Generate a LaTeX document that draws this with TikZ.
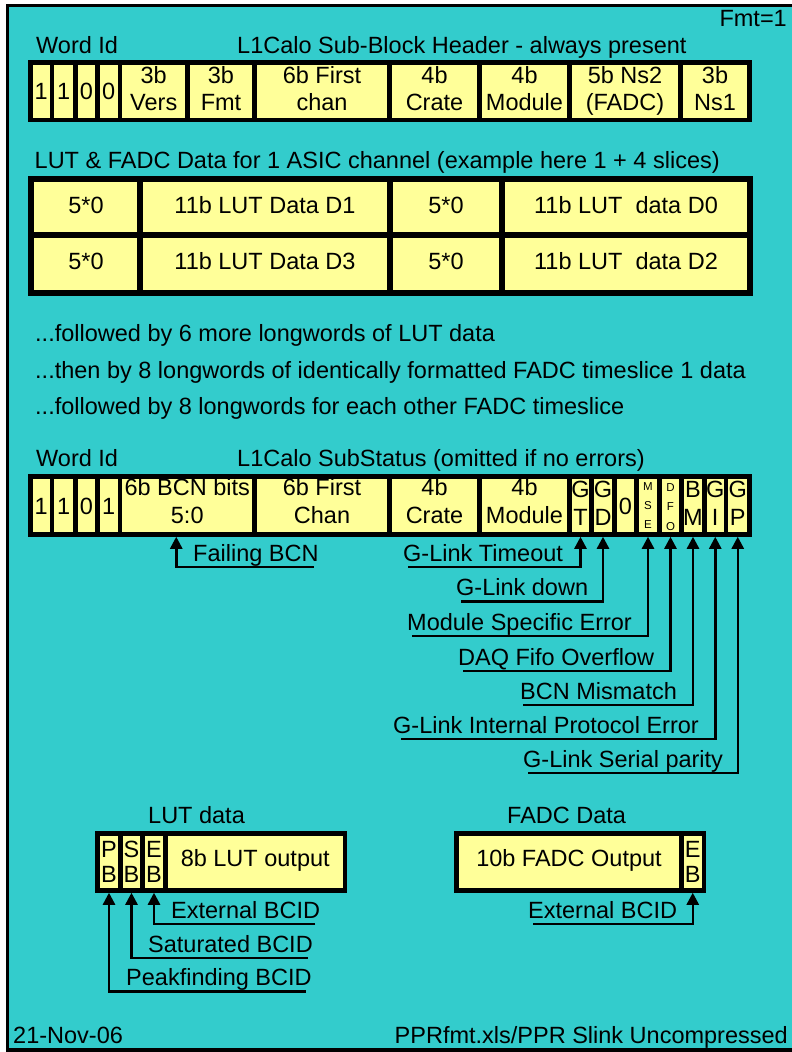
\documentclass[tikz,border=0pt]{standalone}
\usepackage{fontspec}
\setmainfont{Liberation Sans}
\usetikzlibrary{arrows.meta}
\definecolor{bg}{RGB}{51,204,204}
\definecolor{cellyel}{RGB}{255,255,153}
\tikzset{
  cellbox/.style={draw=black, fill=cellyel, line width=4.5pt, inner sep=0pt, rectangle},
  txt/.style={anchor=base, inner sep=0pt, font=\fontsize{23.5}{28}\selectfont},
  ttl/.style={anchor=base west, inner sep=0pt, font=\fontsize{23.5}{28}\selectfont},
  lbl/.style={anchor=base west, inner sep=0pt, text depth=6pt, font=\fontsize{23.5}{28}\selectfont},
  tinytxt/.style={anchor=base, inner sep=0pt, font=\fontsize{11.5}{12}\selectfont},
  arr/.style={line width=2.5pt, -{Triangle[width=12pt,length=12pt]}},
}
\newcommand\cellnode[5]{\node[cellbox, minimum width={(#3)-(#2)}, minimum height={(#5)-(#4)}] (#1) at ({((#2)+(#3))/2},{((#4)+(#5))/2}) {};}
\newcommand\ctext[4]{\node[txt] (#1) at ({#2},{#3}) {#4};}
\begin{document}
\begin{tikzpicture}[x=1pt,y=-1pt]
\useasboundingbox (0,0) rectangle (792,1052);
\clip (0,0) rectangle (792,1052);
\fill[white] (0,0) rectangle (792,1052);
\filldraw[fill=bg, draw=black, line width=3.5pt] (7.5,5.5) rectangle (800,1050);

% ---------- Sub-block header ----------
\node[anchor=base east, inner sep=0pt, font=\fontsize{23.5}{28}\selectfont] (fmt) at (787,27) {Fmt=1};
\node[ttl] (wid1) at (36,53.3) {Word Id};
\node[ttl] (hdr) at (237,53.3) {L1Calo Sub-Block Header - always present};

\cellnode{h1}{30.5}{52}{62.5}{120}
\cellnode{h2}{52}{75.5}{62.5}{120}
\cellnode{h3}{75.5}{97.5}{62.5}{120}
\cellnode{h4}{97.5}{120}{62.5}{120}
\cellnode{h5}{120}{187.5}{62.5}{120}
\cellnode{h6}{187.5}{254.5}{62.5}{120}
\cellnode{h7}{254.5}{389.5}{62.5}{120}
\cellnode{h8}{389.5}{479.5}{62.5}{120}
\cellnode{h9}{479.5}{569.5}{62.5}{120}
\cellnode{h10}{569.5}{680.5}{62.5}{120}
\cellnode{h11}{680.5}{749.5}{62.5}{120}
\ctext{h1t}{41.25}{99.5}{1}
\ctext{h2t}{63.75}{99.5}{1}
\ctext{h3t}{86.5}{99.5}{0}
\ctext{h4t}{108.75}{99.5}{0}
\ctext{h5a}{153.75}{83}{3b}
\ctext{h5b}{153.75}{110}{Vers}
\ctext{h6a}{221}{83}{3b}
\ctext{h6b}{221}{110}{Fmt}
\ctext{h7a}{322}{83}{6b First}
\ctext{h7b}{322}{110}{chan}
\ctext{h8a}{434.5}{83}{4b}
\ctext{h8b}{434.5}{110}{Crate}
\ctext{h9a}{524.5}{83}{4b}
\ctext{h9b}{524.5}{110}{Module}
\ctext{h10a}{625}{83}{5b Ns2}
\ctext{h10b}{625}{110}{(FADC)}
\ctext{h11a}{715}{83}{3b}
\ctext{h11b}{715}{110}{Ns1}

% ---------- LUT & FADC data ----------
\node[ttl] (luttitle) at (34.5,168) {LUT \& FADC Data for 1 ASIC channel (example here 1 + 4 slices)};
\begin{scope}[cellbox/.append style={line width=6pt}]
\cellnode{ta1}{30.5}{140}{179}{235}
\cellnode{ta2}{140}{389.5}{179}{235}
\cellnode{ta3}{389.5}{502}{179}{235}
\cellnode{ta4}{502}{749.5}{179}{235}
\cellnode{tb1}{30.5}{140}{235}{293}
\cellnode{tb2}{140}{389.5}{235}{293}
\cellnode{tb3}{389.5}{502}{235}{293}
\cellnode{tb4}{502}{749.5}{235}{293}
\end{scope}
\ctext{ta1t}{86}{213.5}{5*0}
\ctext{ta2t}{265}{213.5}{11b LUT Data D1}
\ctext{ta3t}{446}{213.5}{5*0}
\ctext{ta4t}{626}{213.5}{11b LUT\ \ data D0}
\ctext{tb1t}{86}{269.5}{5*0}
\ctext{tb2t}{265}{269.5}{11b LUT Data D3}
\ctext{tb3t}{446}{269.5}{5*0}
\ctext{tb4t}{626}{269.5}{11b LUT\ \ data D2}

\node[ttl] (fol1) at (35,341) {...followed by 6 more longwords of LUT data};
\node[ttl] (fol2) at (35,378) {...then by 8 longwords of identically formatted FADC timeslice 1 data};
\node[ttl] (fol3) at (35,414) {...followed by 8 longwords for each other FADC timeslice};

% ---------- SubStatus ----------
\node[ttl] (wid2) at (36,466) {Word Id};
\node[ttl] (sst) at (237,466) {L1Calo SubStatus (omitted if no errors)};

\cellnode{s1}{30.5}{52}{476.5}{534.5}
\cellnode{s2}{52}{75.5}{476.5}{534.5}
\cellnode{s3}{75.5}{97.5}{476.5}{534.5}
\cellnode{s4}{97.5}{120}{476.5}{534.5}
\cellnode{s5}{120}{254.5}{476.5}{534.5}
\cellnode{s6}{254.5}{389.5}{476.5}{534.5}
\cellnode{s7}{389.5}{479.5}{476.5}{534.5}
\cellnode{s8}{479.5}{569.5}{476.5}{534.5}
\cellnode{sgt}{569.5}{591.5}{476.5}{534.5}
\cellnode{sgd}{591.5}{614.5}{476.5}{534.5}
\cellnode{szero}{614.5}{636.5}{476.5}{534.5}
\cellnode{smse}{636.5}{659.5}{476.5}{534.5}
\cellnode{sdfo}{659.5}{681.5}{476.5}{534.5}
\cellnode{sbm}{681.5}{704.5}{476.5}{534.5}
\cellnode{sgi}{704.5}{726}{476.5}{534.5}
\cellnode{sgp}{726}{749.5}{476.5}{534.5}
\ctext{s1t}{41.25}{514}{1}
\ctext{s2t}{63.75}{514}{1}
\ctext{s3t}{86.5}{514}{0}
\ctext{s4t}{108.75}{514}{1}
\ctext{s5a}{187.25}{495}{6b BCN bits}
\ctext{s5b}{187.25}{523}{5:0}
\ctext{s6a}{322}{495}{6b First}
\ctext{s6b}{322}{523}{Chan}
\ctext{s7a}{434.5}{495}{4b}
\ctext{s7b}{434.5}{523}{Crate}
\ctext{s8a}{524.5}{495}{4b}
\ctext{s8b}{524.5}{523}{Module}
\ctext{sgta}{580.5}{497}{G}
\ctext{sgtb}{580.5}{525}{T}
\ctext{sgda}{603}{497}{G}
\ctext{sgdb}{603}{525}{D}
\ctext{szerot}{625.5}{514}{0}
\node[tinytxt] (msea) at (648,490) {M};
\node[tinytxt] (mseb) at (648,509.5) {S};
\node[tinytxt] (msec) at (648,528) {E};
\node[tinytxt] (dfoa) at (670.5,491.5) {D};
\node[tinytxt] (dfob) at (670.5,510) {F};
\node[tinytxt] (dfoc) at (670.5,530) {O};
\ctext{sbma}{693}{497}{B}
\ctext{sbmb}{693}{525}{M}
\ctext{sgia}{715.25}{497}{G}
\ctext{sgib}{715.25}{525}{I}
\ctext{sgpa}{737.75}{497}{G}
\ctext{sgpb}{737.75}{525}{P}

\node[lbl] (lfb) at (193,561) {Failing BCN};
\node[lbl] (lgt) at (403,561) {G-Link Timeout};
\node[lbl] (lgd) at (456,595.5) {G-Link down};
\node[lbl] (lmse) at (407,630) {Module Specific Error};
\node[lbl] (ldfo) at (458,665) {DAQ Fifo Overflow};
\node[lbl] (lbm) at (520,699) {BCN Mismatch};
\node[lbl] (lgi) at (393,733) {G-Link Internal Protocol Error};
\node[lbl] (lgp) at (523,767) {G-Link Serial parity};

\draw[arr] ([xshift=-5pt]lfb.south east) -| ([xshift=-11pt]s5.south);
\draw[arr] ([xshift=5pt]lgt.south west) -| (sgt.south);
\draw[arr] ([xshift=5pt]lgd.south west) -| (sgd.south);
\draw[arr] ([xshift=5pt]lmse.south west) -| (smse.south);
\draw[arr] ([xshift=5pt]ldfo.south west) -| (sdfo.south);
\draw[arr] ([xshift=3pt]lbm.south west) -| (sbm.south);
\draw[arr] ([xshift=8pt]lgi.south west) -| (sgi.south);
\draw[arr] ([xshift=5pt]lgp.south west) -| (sgp.south);

% ---------- LUT data / FADC data words ----------
\node[ttl] (lutd) at (148,823) {LUT data};
\node[ttl] (fadcd) at (507,823) {FADC Data};

\cellnode{pb}{97.5}{120.5}{833.5}{890.5}
\cellnode{sb}{120.5}{142.5}{833.5}{890.5}
\cellnode{eb}{142.5}{165.5}{833.5}{890.5}
\cellnode{lo}{165.5}{345}{833.5}{890.5}
\ctext{pba}{109}{857}{P}
\ctext{pbb}{109}{882}{B}
\ctext{sba}{131.5}{857}{S}
\ctext{sbb}{131.5}{882}{B}
\ctext{eba}{154}{857}{E}
\ctext{ebb}{154}{882}{B}
\ctext{lot}{255.25}{866}{8b LUT output}

\cellnode{fo}{456.5}{681.5}{833.5}{890.5}
\cellnode{feb}{681.5}{704}{833.5}{890.5}
\ctext{fot}{569}{866}{10b FADC Output}
\ctext{feba}{692.75}{857}{E}
\ctext{febb}{692.75}{882}{B}

\node[lbl] (lext) at (171,918) {External BCID};
\node[lbl] (lsat) at (148,952) {Saturated BCID};
\node[lbl] (lpk) at (126,985.5) {Peakfinding BCID};
\node[lbl] (lfext) at (528,918) {External BCID};

\draw[arr] ([xshift=-5pt]lext.south east) -| (eb.south);
\draw[arr] ([xshift=-5pt]lsat.south east) -| (sb.south);
\draw[arr] ([xshift=-6pt]lpk.south east) -| (pb.south);
\draw[arr] ([xshift=5pt]lfext.south west) -| (feb.south);

% ---------- footer ----------
\node[ttl] (date) at (13,1043) {21-Nov-06};
\node[anchor=base east, inner sep=0pt, font=\fontsize{23.5}{28}\selectfont] (src) at (788,1043) {PPRfmt.xls/PPR Slink Uncompressed};
\end{tikzpicture}
\end{document}
